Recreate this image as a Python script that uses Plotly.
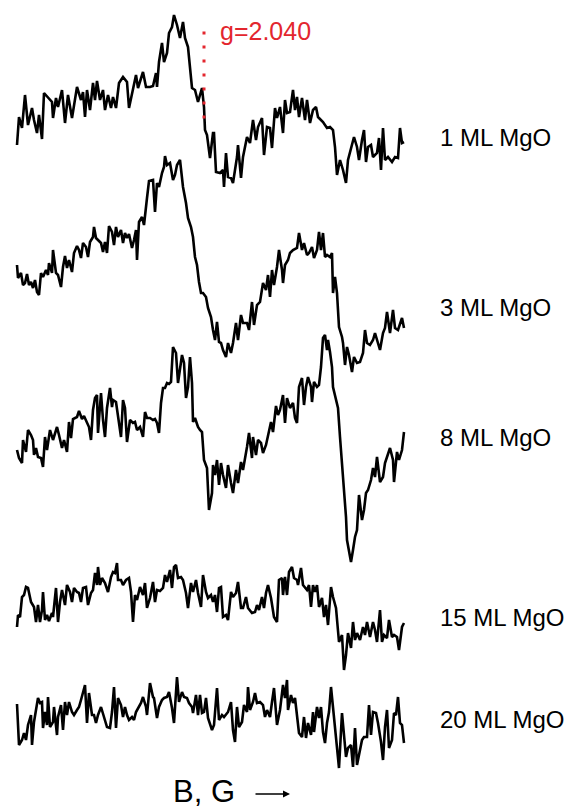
import plotly.graph_objects as go

# EPR spectra of MgO films of increasing thickness (field in arb. units, signal in arb. units)
spec_1ml = [(1,-45),(3,-17),(6,-28),(9,5),(12,-25),(16,-8),(18,-20),(21,-33),(23,-15),(26,-39),(28,7),(32,3),(36,-2),(37,-18),(40,2),(42,-7),(44,3),(46,10),(49,-23),(52,5),(56,-18),(58,-7),(61,13),(65,0),(67,8),(69,-17),(71,10),(74,-10),(77,17),(79,0),(81,19),(84,0),(87,10),(89,-10),(92,5),(95,-8),(97,3),(100,-8),(103,17),(107,23),(111,18),(113,-8),(117,13),(120,25),(122,12),(127,28),(130,13),(134,13),(137,14),(140,27),(141,13),(143,38),(146,57),(148,38),(151,47),(153,67),(156,73),(158,85),(161,75),(164,62),(167,78),(169,62),(172,53),(176,12),(179,10),(182,-2),(186,12),(188,-7),(189,-30),(191,-35),(194,-58),(197,-33),(198,-33),(200,-72),(204,-73),(207,-70),(208,-87),(210,-53),(212,-77),(215,-78),(217,-83),(221,-57),(222,-45),(225,-78),(227,-57),(231,-37),(234,-43),(237,-20),(240,-40),(242,-27),(246,-18),(248,-55),(251,-27),(254,-28),(256,-48),(259,-8),(261,-18),(264,-7),(267,-33),(269,0),(271,-13),(274,-12),(277,10),(279,-10),(281,3),(283,-17),(286,2),(289,-20),(291,0),(294,-23),(297,-10),(300,-7),(302,-17),(307,-22),(311,-28),(314,-27),(317,-30),(319,-47),(321,-75),(324,-60),(327,-70),(330,-83),(332,-60),(336,-43),(338,-37),(341,-47),(343,-60),(346,-40),(348,-30),(350,-62),(352,-47),(355,-45),(357,-57),(361,-53),(363,-38),(365,-70),(367,-28),(369,-60),(372,-57),(376,-62),(379,-57),(382,-58),(384,-28),(386,-43),(388,-42)]

spec_3ml = [(1,0),(2,-13),(5,-8),(7,-20),(9,-18),(11,-9),(13,-20),(15,-17),(17,-23),(19,-15),(21,-27),(23,-30),(25,-8),(27,-12),(30,-5),(32,-10),(33,2),(36,-8),(37,15),(40,-8),(42,-10),(45,-22),(47,-2),(49,9),(51,-3),(53,5),(56,-7),(58,12),(61,19),(63,15),(65,7),(67,22),(70,18),(72,8),(74,23),(77,28),(78,38),(80,27),(82,25),(85,22),(87,13),(89,23),(91,12),(93,39),(96,33),(98,20),(100,38),(102,28),(105,35),(107,22),(109,32),(111,27),(113,31),(116,17),(118,25),(120,35),(121,5),(123,43),(126,48),(128,40),(131,67),(133,84),(137,85),(139,53),(141,82),(143,78),(146,92),(148,98),(149,109),(151,100),(154,102),(157,85),(159,90),(161,100),(164,105),(167,78),(170,62),(172,47),(175,38),(177,28),(179,8),(181,0),(183,-17),(185,-28),(187,-28),(190,-32),(192,-43),(195,-52),(197,-65),(199,-75),(201,-57),(203,-77),(205,-78),(207,-85),(210,-92),(212,-78),(215,-88),(217,-78),(220,-58),(222,-75),(225,-50),(227,-58),(231,-58),(233,-65),(236,-37),(238,-60),(241,-40),(244,-37),(247,-18),(250,-25),(252,-10),(254,-32),(256,-5),(258,-20),(261,-2),(263,15),(266,-5),(267,-18),(269,0),(272,5),(274,12),(277,15),(281,17),(283,32),(286,15),(288,22),(291,10),(293,12),(296,18),(298,7),(301,15),(303,33),(305,15),(307,32),(309,8),(311,10),(314,8),(316,12),(317,-28),(319,-12),(321,-28),(323,-62),(326,-72),(327,-78),(329,-100),(331,-82),(333,-90),(336,-107),(338,-92),(341,-98),(344,-97),(347,-88),(349,-65),(351,-78),(354,-80),(357,-75),(359,-68),(361,-75),(364,-85),(367,-68),(369,-63),(371,-47),(374,-68),(377,-45),(379,-63),(382,-65),(386,-53),(388,-63)]

spec_8ml = [(1,-10),(3,-18),(6,-23),(7,0),(10,-12),(12,10),(15,5),(17,0),(18,-15),(20,-8),(22,-17),(25,-18),(27,-27),(29,3),(31,-10),(34,10),(37,0),(39,7),(41,13),(43,5),(46,-8),(48,0),(51,-12),(53,18),(55,2),(57,21),(61,23),(63,29),(66,21),(68,24),(71,18),(73,13),(75,0),(77,30),(79,42),(81,45),(82,7),(85,47),(87,20),(89,3),(91,32),(94,52),(96,33),(97,40),(100,38),(102,22),(105,3),(107,40),(109,32),(111,-2),(114,20),(117,17),(119,18),(121,10),(124,13),(127,3),(129,28),(131,22),(134,22),(137,20),(139,21),(141,17),(143,7),(145,37),(147,52),(149,52),(151,57),(153,56),(155,58),(157,93),(160,87),(162,57),(164,70),(166,85),(168,77),(170,42),(172,53),(174,83),(176,57),(177,18),(179,22),(182,13),(184,10),(186,8),(188,-20),(191,-28),(193,-70),(196,-53),(197,-25),(199,-35),(201,-20),(203,-45),(205,-23),(207,-35),(210,-48),(212,-25),(215,-43),(217,-53),(220,-30),(222,-43),(225,-22),(227,-30),(231,-7),(233,7),(236,-18),(237,3),(240,-15),(242,0),(245,-3),(247,-13),(250,-5),(252,3),(255,18),(257,8),(260,34),(262,25),(264,30),(267,45),(269,17),(271,42),(274,32),(277,37),(279,22),(281,17),(283,53),(286,62),(288,35),(290,53),(292,63),(295,53),(296,38),(298,58),(301,53),(303,55),(305,73),(307,102),(309,105),(311,90),(312,100),(314,88),(316,73),(317,53),(321,38),(322,32),(324,3),(326,-23),(328,-58),(330,-77),(331,-100),(333,-110),(335,-122),(337,-110),(339,-97),(341,-90),(343,-55),(346,-80),(348,-70),(350,-53),(352,-50),(355,-40),(357,-28),(359,-37),(361,-17),(364,-42),(367,-37),(369,-23),(372,-13),(374,-8),(377,-20),(378,-42),(381,-12),(383,-20),(386,-10),(388,8)]

spec_15ml = [(1,-27),(2,-15),(4,-17),(6,3),(8,5),(10,13),(12,12),(15,-2),(18,-7),(20,-22),(22,-5),(24,-22),(26,-10),(27,8),(29,-20),(31,-15),(33,-21),(36,-13),(37,-17),(40,12),(42,-22),(44,-2),(46,10),(49,-5),(51,15),(54,8),(56,-2),(58,12),(61,8),(63,7),(65,-2),(67,12),(70,13),(72,-5),(75,7),(77,10),(79,27),(81,15),(82,33),(84,15),(86,22),(89,17),(92,8),(95,23),(97,28),(99,27),(101,37),(102,20),(105,20),(107,15),(110,20),(113,22),(115,8),(117,-22),(119,5),(121,0),(124,13),(127,5),(129,17),(131,-8),(134,2),(137,18),(139,-2),(141,10),(144,9),(147,12),(149,25),(151,18),(154,30),(156,12),(158,33),(160,35),(162,22),(165,23),(167,20),(170,7),(172,-8),(175,17),(177,8),(180,20),(182,7),(185,-7),(187,25),(190,8),(192,2),(195,5),(197,-2),(199,5),(201,-12),(203,12),(205,13),(207,-17),(210,-15),(212,-20),(215,8),(217,3),(220,7),(222,18),(225,-8),(227,-8),(230,3),(232,-8),(236,-13),(239,-12),(241,-5),(243,-10),(246,3),(248,-8),(250,7),(252,15),(255,2),(258,-17),(261,-22),(263,20),(266,22),(267,5),(269,23),(271,5),(273,28),(276,33),(278,22),(281,20),(282,15),(285,32),(287,15),(289,12),(291,10),(293,15),(295,-7),(297,15),(299,8),(301,15),(303,-7),(306,2),(308,-17),(310,-5),(312,-25),(315,13),(317,3),(320,-8),(322,-33),(323,-42),(326,-35),(328,-70),(330,-55),(332,-33),(335,-48),(337,-22),(339,-40),(341,-33),(344,-40),(347,-27),(349,-35),(351,-22),(354,-37),(357,-22),(359,-30),(361,-42),(364,-10),(366,-42),(368,-35),(371,-38),(373,-20),(376,-37),(378,-35),(381,-37),(383,-50),(386,-27),(388,-23)]

spec_20ml = [(1,8),(3,-33),(6,-28),(8,-21),(10,-28),(12,-13),(15,-3),(16,-33),(18,-10),(20,4),(22,14),(24,9),(26,10),(27,-16),(29,0),(31,-13),(32,15),(34,-15),(37,-10),(38,5),(41,-23),(42,-5),(45,7),(47,-18),(49,10),(51,-3),(53,10),(56,0),(58,-3),(61,2),(63,5),(65,12),(67,19),(69,27),(71,-11),(73,19),(76,-3),(78,-3),(80,-11),(82,-3),(85,5),(87,-1),(89,-8),(91,-15),(94,-16),(96,0),(98,25),(100,-16),(102,14),(105,7),(107,-5),(109,5),(111,-3),(113,-8),(116,-5),(118,-8),(120,0),(122,4),(125,9),(127,15),(130,5),(131,-3),(134,29),(137,15),(138,14),(141,-6),(143,5),(146,12),(148,14),(151,15),(153,20),(156,4),(158,-11),(161,35),(163,10),(166,20),(168,15),(171,14),(173,9),(176,5),(177,-1),(180,17),(182,-3),(184,17),(186,-1),(188,0),(190,14),(192,-6),(196,-18),(198,-13),(201,24),(203,-8),(206,-3),(208,-5),(210,-3),(212,0),(215,10),(217,-18),(219,-30),(221,5),(223,-15),(226,-10),(228,7),(231,0),(232,25),(234,2),(237,10),(239,19),(241,9),(244,10),(247,7),(249,-5),(251,2),(254,-5),(256,10),(258,24),(261,-13),(264,2),(267,27),(269,14),(271,32),(272,2),(275,17),(277,9),(279,14),(281,-5),(283,-21),(286,-25),(288,-5),(290,-26),(292,-11),(295,-23),(297,0),(298,-20),(301,5),(303,-6),(305,5),(307,-20),(309,-31),(311,-11),(313,0),(315,25),(317,4),(320,-26),(322,-43),(323,-56),(326,-1),(328,-20),(330,-45),(332,-36),(335,-33),(337,-55),(339,-16),(341,-53),(344,-36),(346,-28),(348,-25),(351,-25),(353,7),(355,-23),(357,0),(360,-1),(362,-11),(365,-30),(367,-48),(369,-15),(371,2),(373,-36),(376,-28),(378,-1),(380,-3),(382,15),(384,-11),(386,-13),(388,-31)]

labels = ["1 ML MgO", "3 ML MgO", "8 ML MgO", "15 ML MgO", "20 ML MgO"]
spectra = [spec_1ml, spec_3ml, spec_8ml, spec_15ml, spec_20ml]

# resonance marker
g_field = 188
g_text = "g=2.040"

# vertical stacking of the spectra and label placement
stack_shift = [100, 265, 440, 600, 712]
label_y = [137, 307, 437, 617, 719]

RED = "#e3262e"
FONT = "Liberation Sans, Arial, sans-serif"

fig = go.Figure()
for pts, shift in zip(spectra, stack_shift):
    field, signal = zip(*pts)
    fig.add_trace(go.Scatter(
        x=list(field), y=[s - shift for s in signal], mode="lines",
        line=dict(color="black", width=2.6), hoverinfo="skip", showlegend=False))

for name, ly in zip(labels, label_y):
    fig.add_annotation(x=422, y=-ly, xref="x", yref="y", text=name, showarrow=False,
                       xanchor="left", yanchor="middle",
                       font=dict(family=FONT, size=24, color="black"))

# dotted marker at g = 2.040
fig.add_shape(type="line", x0=g_field, x1=g_field, y0=-31.5, y1=-120, xref="x", yref="y",
              line=dict(color=RED, width=3, dash="3px,11px"))
fig.add_annotation(x=202, y=-31, xref="x", yref="y", text=g_text, showarrow=False,
                   xanchor="left", yanchor="middle",
                   font=dict(family=FONT, size=25, color=RED))

# field-axis caption with arrow
fig.add_annotation(x=188, y=-791, xref="x", yref="y", text="B, G", showarrow=False,
                   xanchor="center", yanchor="middle", borderpad=0,
                   font=dict(family=FONT, size=31, color="black"))
fig.add_annotation(x=274, y=-794, xref="x", yref="y", ax=238, ay=-794, axref="x", ayref="y",
                   text="", showarrow=True, arrowhead=2, arrowsize=1, arrowwidth=1.4,
                   arrowcolor="black")

fig.update_layout(
    width=574, height=811,
    margin=dict(l=0, r=0, t=0, b=0),
    paper_bgcolor="white", plot_bgcolor="white",
    xaxis=dict(range=[-16, 558], visible=False, fixedrange=True),
    yaxis=dict(range=[-811, 0], visible=False, fixedrange=True),
)

fig.write_html("out.html")
